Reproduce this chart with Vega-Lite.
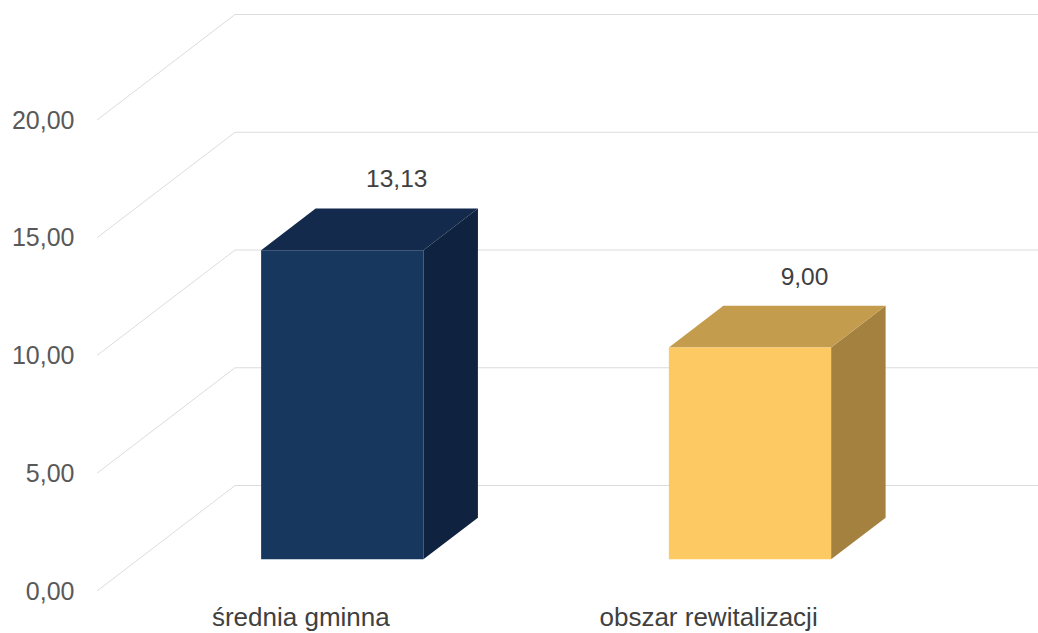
{
  "$schema": "https://vega.github.io/schema/vega-lite/v6.json",
  "width": 941,
  "height": 633,
  "autosize": {"type": "none"},
  "padding": {"left": 97, "top": 0, "right": 0, "bottom": 0},
  "background": "white",
  "config": {
    "view": {"stroke": null},
    "font": "Liberation Sans",
    "axisY": {
      "values": [0, 5, 10, 15, 20],
      "labelExpr": "replace(format(datum.value, '.2f'), '.', ',')",
      "labelFontSize": 25,
      "labelFont": "Liberation Sans",
      "labelColor": "#595959",
      "labelPadding": 23,
      "ticks": false,
      "domain": false,
      "grid": false,
      "title": null
    }
  },
  "datasets": {
    "wartosci": [
      {"kategoria": "średnia gminna", "wartosc": 13.13},
      {"kategoria": "obszar rewitalizacji", "wartosc": 9.0}
    ],
    "podzialka": [
      {"t": 0}, {"t": 5}, {"t": 10}, {"t": 15}, {"t": 20}
    ]
  },
  "layer": [
    {
      "data": {"name": "podzialka"},
      "transform": [{"calculate": "datum.t + 4.48", "as": "yb"}],
      "mark": {"type": "rule", "color": "#dcdcdc", "strokeWidth": 1},
      "encoding": {
        "x": {"datum": -0.5, "type": "quantitative", "scale": {"domain": [-0.5, 1.808], "nice": false, "zero": false}, "axis": null},
        "x2": {"datum": -0.1615},
        "y": {
          "field": "t", "type": "quantitative",
          "scale": {"domain": [-1.783, 25.096], "nice": false, "zero": false},
          "axis": {
            "values": [0, 5, 10, 15, 20],
            "labelExpr": "replace(format(datum.value, '.2f'), '.', ',')",
            "labelFontSize": 25,
            "labelFont": "Liberation Sans",
            "labelColor": "#595959",
            "labelPadding": 23,
            "ticks": false,
            "domain": false,
            "grid": false,
            "title": null
          }
        },
        "y2": {"field": "yb"}
      }
    },
    {
      "data": {"name": "podzialka"},
      "transform": [{"calculate": "datum.t + 4.48", "as": "yb"}],
      "mark": {"type": "rule", "color": "#dcdcdc", "strokeWidth": 1},
      "encoding": {
        "x": {"datum": -0.1615, "type": "quantitative", "scale": {"domain": [-0.5, 1.808], "nice": false, "zero": false}, "axis": null},
        "x2": {"datum": 1.808},
        "y": {"field": "yb", "type": "quantitative", "scale": {"domain": [-1.783, 25.096], "nice": false, "zero": false}}
      }
    },
    {
      "data": {"name": "wartosci"},
      "transform": [
        {"window": [{"op": "row_number", "as": "nr"}]},
        {"calculate": "datum.nr - 1", "as": "i"},
        {"calculate": "[0.3, 0.695]", "as": "z"},
        {"flatten": ["z"]},
        {"calculate": "datum.i + 0.199 + datum.z * 0.3385", "as": "xs"},
        {"calculate": "datum.wartosc + datum.z * 4.48", "as": "yg"},
        {"calculate": "datum.z * 4.48", "as": "yd"}
      ],
      "mark": {"type": "area", "orient": "vertical"},
      "encoding": {
        "x": {"field": "xs", "type": "quantitative", "scale": {"domain": [-0.5, 1.808], "nice": false, "zero": false}, "axis": null},
        "y": {"field": "yg", "type": "quantitative", "scale": {"domain": [-1.783, 25.096], "nice": false, "zero": false}},
        "y2": {"field": "yd"},
        "detail": {"field": "kategoria"},
        "color": {"field": "kategoria", "type": "nominal", "scale": {"domain": ["średnia gminna", "obszar rewitalizacji"], "range": ["#0f223f", "#a4813f"]}, "legend": null}
      }
    },
    {
      "data": {"name": "wartosci"},
      "transform": [
        {"window": [{"op": "row_number", "as": "nr"}]},
        {"calculate": "datum.nr - 1", "as": "i"},
        {"calculate": "[0.3, 0.695]", "as": "z"},
        {"flatten": ["z"]},
        {"calculate": "datum.i - 0.199 + datum.z * 0.3385", "as": "xl"},
        {"calculate": "datum.i + 0.199 + datum.z * 0.3385", "as": "xr"},
        {"calculate": "datum.wartosc + datum.z * 4.48", "as": "yg"}
      ],
      "mark": {"type": "area", "orient": "horizontal"},
      "encoding": {
        "y": {"field": "yg", "type": "quantitative", "scale": {"domain": [-1.783, 25.096], "nice": false, "zero": false}},
        "x": {"field": "xl", "type": "quantitative", "scale": {"domain": [-0.5, 1.808], "nice": false, "zero": false}, "axis": null},
        "x2": {"field": "xr"},
        "detail": {"field": "kategoria"},
        "color": {"field": "kategoria", "type": "nominal", "scale": {"domain": ["średnia gminna", "obszar rewitalizacji"], "range": ["#132a4c", "#c49c4e"]}, "legend": null}
      }
    },
    {
      "data": {"name": "wartosci"},
      "transform": [
        {"window": [{"op": "row_number", "as": "nr"}]},
        {"calculate": "datum.nr - 1", "as": "i"},
        {"calculate": "datum.i - 0.199 + 0.3 * 0.3385", "as": "xl"},
        {"calculate": "datum.i + 0.199 + 0.3 * 0.3385", "as": "xr"},
        {"calculate": "datum.wartosc + 0.3 * 4.48", "as": "yg"},
        {"calculate": "0.3 * 4.48", "as": "yd"}
      ],
      "mark": {"type": "rect"},
      "encoding": {
        "x": {"field": "xl", "type": "quantitative", "scale": {"domain": [-0.5, 1.808], "nice": false, "zero": false}, "axis": null},
        "x2": {"field": "xr"},
        "y": {"field": "yg", "type": "quantitative", "scale": {"domain": [-1.783, 25.096], "nice": false, "zero": false}},
        "y2": {"field": "yd"},
        "color": {"field": "kategoria", "type": "nominal", "scale": {"domain": ["średnia gminna", "obszar rewitalizacji"], "range": ["#17375e", "#fdc963"]}, "legend": null}
      }
    },
    {
      "data": {"name": "wartosci"},
      "transform": [
        {"window": [{"op": "row_number", "as": "nr"}]},
        {"calculate": "datum.nr - 1 + 0.695 * 0.3385", "as": "xt"},
        {"calculate": "datum.wartosc + 0.695 * 4.48", "as": "yt"},
        {"calculate": "replace(format(datum.wartosc, '.2f'), '.', ',')", "as": "etykieta"}
      ],
      "mark": {"type": "text", "fontSize": 24.5, "font": "Liberation Sans", "color": "#404040", "baseline": "middle", "align": "center", "dy": -28},
      "encoding": {
        "x": {"field": "xt", "type": "quantitative", "scale": {"domain": [-0.5, 1.808], "nice": false, "zero": false}, "axis": null},
        "y": {"field": "yt", "type": "quantitative", "scale": {"domain": [-1.783, 25.096], "nice": false, "zero": false}},
        "text": {"field": "etykieta"}
      }
    },
    {
      "data": {"name": "wartosci"},
      "transform": [
        {"window": [{"op": "row_number", "as": "nr"}]},
        {"calculate": "datum.nr - 1", "as": "i"}
      ],
      "mark": {"type": "text", "fontSize": 26, "font": "Liberation Sans", "color": "#404040", "baseline": "alphabetic", "align": "center"},
      "encoding": {
        "x": {"field": "i", "type": "quantitative", "scale": {"domain": [-0.5, 1.808], "nice": false, "zero": false}, "axis": null},
        "y": {"datum": -1.5, "type": "quantitative", "scale": {"domain": [-1.783, 25.096], "nice": false, "zero": false}},
        "text": {"field": "kategoria"}
      }
    }
  ],
  "resolve": {"scale": {"color": "independent"}}
}
